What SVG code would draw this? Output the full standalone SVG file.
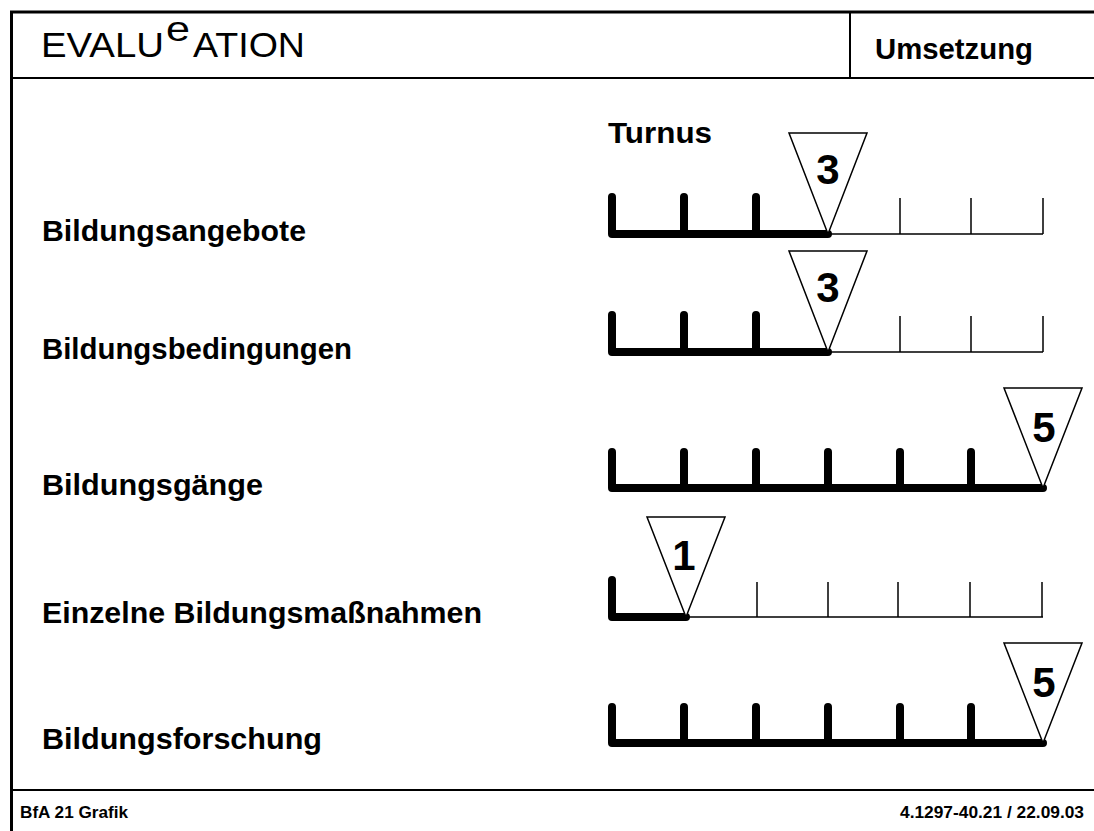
<svg xmlns="http://www.w3.org/2000/svg" width="1094" height="831" viewBox="0 0 1094 831">
<style>
.frame{stroke:#000;fill:none}
.lbl{font-family:"Liberation Sans",Arial,sans-serif;font-weight:bold;font-size:30px;fill:#000}
.hdr{font-family:"Liberation Sans",Arial,sans-serif;font-size:35px;fill:#000}
.ft{font-family:"Liberation Sans",Arial,sans-serif;font-weight:bold;font-size:17px;fill:#000}
.dig{font-family:"Liberation Sans",Arial,sans-serif;font-weight:bold;font-size:42px;fill:#000;text-anchor:middle}
.thick{stroke:#000;stroke-width:8;stroke-linecap:round;stroke-linejoin:round;fill:none}
.thin{stroke:#000;stroke-width:1.5;fill:none}
.tri{fill:#fff;stroke:#000;stroke-width:1.5;stroke-linejoin:miter}
</style>
<rect width="1094" height="831" fill="#fff"/>
<g id="frame">
<line class="frame" x1="10" y1="12" x2="1094" y2="12" stroke-width="3"/>
<line class="frame" x1="11.5" y1="11" x2="11.5" y2="831" stroke-width="3"/>
<line class="frame" x1="11" y1="78" x2="1094" y2="78" stroke-width="2"/>
<line class="frame" x1="850" y1="12" x2="850" y2="78" stroke-width="2"/>
<line class="frame" x1="11" y1="790" x2="1094" y2="790" stroke-width="2"/>
</g>
<g id="header">
<text class="hdr" x="41" y="57" textLength="123" lengthAdjust="spacingAndGlyphs">EVALU</text>
<text class="hdr" x="166" y="41" font-size="28" textLength="24" lengthAdjust="spacingAndGlyphs">e</text>
<text class="hdr" x="193" y="57" textLength="112" lengthAdjust="spacingAndGlyphs">ATION</text>
<text class="lbl" x="875" y="59" font-size="29" textLength="158" lengthAdjust="spacingAndGlyphs">Umsetzung</text>
</g>
<g id="turnus"><text class="lbl" x="608" y="143" textLength="104" lengthAdjust="spacingAndGlyphs">Turnus</text></g>
<g id="labels">
<text class="lbl" x="42" y="241" textLength="264" lengthAdjust="spacingAndGlyphs">Bildungsangebote</text>
<text class="lbl" x="42" y="359" textLength="310" lengthAdjust="spacingAndGlyphs">Bildungsbedingungen</text>
<text class="lbl" x="42" y="495" textLength="221" lengthAdjust="spacingAndGlyphs">Bildungsgänge</text>
<text class="lbl" x="42" y="623" textLength="440" lengthAdjust="spacingAndGlyphs">Einzelne Bildungsmaßnahmen</text>
<text class="lbl" x="42" y="749" textLength="280" lengthAdjust="spacingAndGlyphs">Bildungsforschung</text>
</g>
<g id="row1">
<path class="thin" d="M828 234H1043M900 234V198M971 234V198M1043 234V198"/>
<path class="thick" d="M612 234H828M612 234V197M684 234V197M756 234V197"/>
<polygon class="tri" points="789,133 867,133 828,234"/>
<text class="dig" x="828" y="184">3</text>
</g>
<g id="row2">
<path class="thin" d="M828 352H1043M900 352V316M971 352V316M1043 352V316"/>
<path class="thick" d="M612 352H828M612 352V315M684 352V315M756 352V315"/>
<polygon class="tri" points="789,251 867,251 828,352"/>
<text class="dig" x="828" y="302">3</text>
</g>
<g id="row3">
<path class="thick" d="M612 488H1043M612 488V452M684 488V452M756 488V452M828 488V452M900 488V452M971 488V452"/>
<polygon class="tri" points="1004,388 1082,388 1043,488"/>
<text class="dig" x="1044" y="442">5</text>
</g>
<g id="row4">
<path class="thin" d="M686 617H1043M757 617V582M828 617V582M898 617V582M970 617V582M1042 617V582"/>
<path class="thick" d="M612 617H686M612 617V580"/>
<polygon class="tri" points="647,517 725,517 686,617"/>
<text class="dig" x="684" y="570">1</text>
</g>
<g id="row5">
<path class="thick" d="M612 743H1043M612 743V707M684 743V707M756 743V707M828 743V707M900 743V707M971 743V707"/>
<polygon class="tri" points="1004,643 1082,643 1043,743"/>
<text class="dig" x="1044" y="697">5</text>
</g>
<g id="footer">
<text class="ft" x="20" y="818" textLength="108" lengthAdjust="spacingAndGlyphs">BfA 21 Grafik</text>
<text class="ft" x="900" y="818" textLength="184" lengthAdjust="spacingAndGlyphs">4.1297-40.21 / 22.09.03</text>
</g>
</svg>
